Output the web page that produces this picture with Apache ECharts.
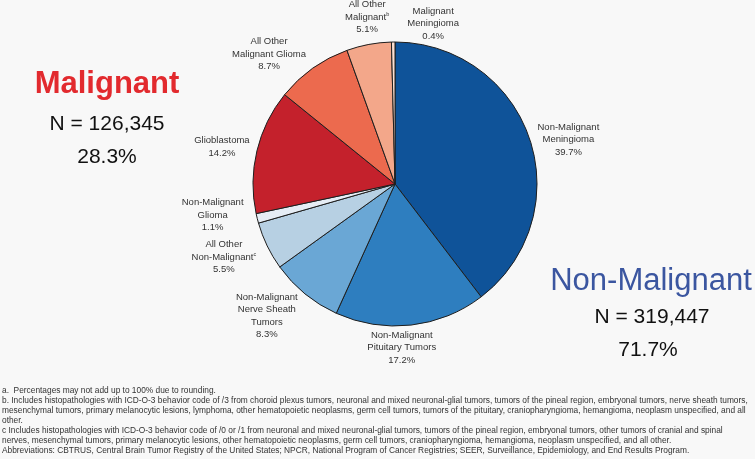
<!DOCTYPE html>
<html><head><meta charset="utf-8">
<script src="https://cdn.jsdelivr.net/npm/echarts@6/dist/echarts.min.js"></script>
<style>html,body{margin:0;padding:0;background:#f8f8f8}#c{width:755px;height:459px}</style>
</head><body><div id="c"></div>
<script>
// ---- data ----
const categories = ["Non-Malignant\nMeningioma", "Non-Malignant\nPituitary Tumors", "Non-Malignant\nNerve Sheath\nTumors", "All Other\nNon-Malignant", "Non-Malignant\nGlioma", "Glioblastoma", "All Other\nMalignant Glioma", "All Other\nMalignant", "Malignant\nMeningioma"];
const values = [39.7, 17.2, 8.3, 5.5, 1.1, 14.2, 8.7, 5.1, 0.4];
const footMarks = ["", "", "", "c", "", "", "", "b", ""];
const groupNames = ["Malignant", "Non-Malignant"];
const groupN = ["N = 126,345", "N = 319,447"];
const groupPct = ["28.3%", "71.7%"];
const footnotes = [
  "a.  Percentages may not add up to 100% due to rounding.",
  "b. Includes histopathologies with ICD-O-3 behavior code of /3 from choroid plexus tumors, neuronal and mixed neuronal-glial tumors, tumors of the pineal region, embryonal tumors, nerve sheath tumors,",
  "mesenchymal tumors, primary melanocytic lesions, lymphoma, other hematopoietic neoplasms, germ cell tumors, tumors of the pituitary, craniopharyngioma, hemangioma, neoplasm unspecified, and all",
  "other.",
  "c Includes histopathologies with ICD-O-3 behavior code of /0 or /1 from neuronal and mixed neuronal-glial tumors, tumors of the pineal region, embryonal tumors, other tumors of cranial and spinal",
  "nerves, mesenchymal tumors, primary melanocytic lesions, other hematopoietic neoplasms, germ cell tumors, craniopharyngioma, hemangioma, neoplasm unspecified, and all other.",
  "Abbreviations: CBTRUS, Central Brain Tumor Registry of the United States; NPCR, National Program of Cancer Registries; SEER, Surveillance, Epidemiology, and End Results Program."
];

// ---- styles ----
const colors = ['#0f5399', '#2e7ebf', '#6aa7d5', '#b7d0e3', '#e6edf5', '#c4212c', '#ec6a4e', '#f3a78a', '#fde0d2'];
const CX = 395, CY = 184, R = 142;
const labelDist = [179, 164, 184, 186, 185, 177, 181, 169, 165];
const labelShift = [4.3, 4.1, 4.8, 2.8, 4.3, -1.4, -8.7, 1.1, 14.1];
const FONT = '"Liberation Sans", Arial, sans-serif';

const total = values.reduce((a, b) => a + b, 0);
const mids = [];
let acc = 0;
values.forEach(v => { mids.push(acc + v / 2); acc += v; });

const chart = echarts.init(document.getElementById('c'), null, {renderer: 'canvas'});
chart.setOption({
  backgroundColor: '#f8f8f8',
  animation: false,
  series: [{
    type: 'pie',
    center: [CX, CY],
    radius: R,
    startAngle: 90,
    clockwise: true,
    avoidLabelOverlap: false,
    itemStyle: { borderColor: '#1e1e1e', borderWidth: 1 },
    label: {
      show: true,
      position: 'outside',
      fontFamily: FONT,
      fontSize: 9.5,
      lineHeight: 12.5,
      color: '#333',
      align: 'center',
      formatter: function (p) {
        const i = p.dataIndex;
        const name = footMarks[i] ? p.name + '{sup|' + footMarks[i] + '}' : p.name;
        return name + '\n' + values[i].toFixed(1) + '%';
      },
      rich: {
        sup: { fontSize: 5.5, fontFamily: FONT, color: '#333', padding: [0, 0, 5, 0], lineHeight: 12.5 }
      }
    },
    labelLine: { show: false },
    labelLayout: function (p) {
      const i = p.dataIndex;
      const th = mids[i] / total * 2 * Math.PI + labelShift[i] * Math.PI / 180;
      return { x: CX + labelDist[i] * Math.sin(th), y: CY - labelDist[i] * Math.cos(th), align: 'center', verticalAlign: 'middle' };
    },
    data: categories.map((c, i) => ({ name: c, value: values[i], itemStyle: { color: colors[i] } }))
  }],
  graphic: [
    { type: 'text', x: 107, y: 84, style: { text: groupNames[0], font: 'bold 31px ' + FONT, fill: '#e22a2e', align: 'center', verticalAlign: 'middle' } },
    { type: 'text', x: 107, y: 124.7, style: { text: groupN[0], font: '21px ' + FONT, fill: '#111', align: 'center', verticalAlign: 'middle' } },
    { type: 'text', x: 107, y: 157.7, style: { text: groupPct[0], font: '21px ' + FONT, fill: '#111', align: 'center', verticalAlign: 'middle' } },
    { type: 'text', x: 651, y: 281, style: { text: groupNames[1], font: '31px ' + FONT, fill: '#3b56a0', align: 'center', verticalAlign: 'middle' } },
    { type: 'text', x: 652, y: 317.7, style: { text: groupN[1], font: '21px ' + FONT, fill: '#111', align: 'center', verticalAlign: 'middle' } },
    { type: 'text', x: 648, y: 350.7, style: { text: groupPct[1], font: '21px ' + FONT, fill: '#111', align: 'center', verticalAlign: 'middle' } },
    { type: 'text', x: 2, y: 385.5, style: { text: footnotes.join('\n'), font: '8.36px ' + FONT, lineHeight: 10, fill: '#333', align: 'left', verticalAlign: 'top' } }
  ]
});
</script>
</body></html>
